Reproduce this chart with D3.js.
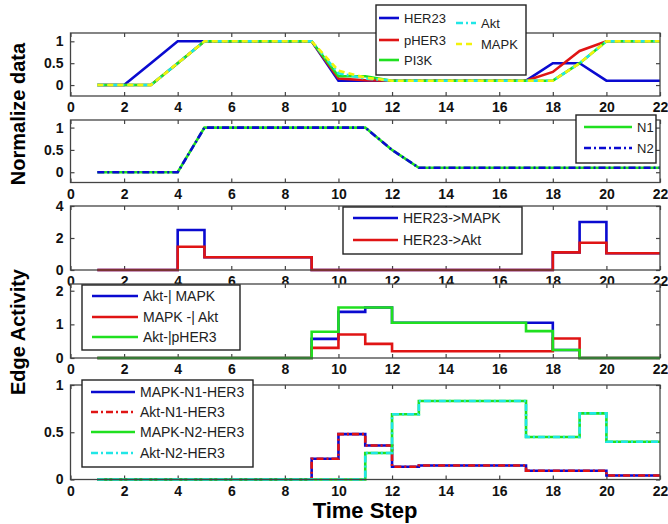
<!DOCTYPE html>
<html>
<head>
<meta charset="utf-8">
<title>Normalized data and edge activity</title>
<script src="https://d3js.org/d3.v7.min.js"></script>
<style>
body { margin: 0; background: white; font-family: "Liberation Sans", Arial, sans-serif; }
.tick text { font-size: 14px; font-weight: bold; fill: #111; font-family: "Liberation Sans", Arial, sans-serif; }
.tick line { stroke: #444; stroke-width: 1.2; }
.lg text { font-size: 14px; fill: #222; }
</style>
</head>
<body>
<script>
// time steps and the series
var timeSteps = [1,2,3,4,5,6,7,8,9,10,11,12,13,14,15,16,17,18,19,20,21,22];

// normalized data
var her23 = [0,0,0.5,1,1,1,1,1,1,0.1,0.1,0.1,0.1,0.1,0.1,0.1,0.1,0.5,0.5,0.1,0.1,0.1];
var pHer3 = [0,0,0,0.5,1,1,1,1,1,0.15,0.11,0.1,0.1,0.1,0.1,0.1,0.1,0.3,0.78,1,1,1];
var pi3k  = [0,0,0,0.5,1,1,1,1,1,0.2,0.2,0.1,0.1,0.1,0.1,0.1,0.1,0.1,0.5,1,1,1];
var akt   = [0,0,0,0.5,1,1,1,1,1,0.27,0.15,0.1,0.1,0.1,0.1,0.1,0.1,0.1,0.5,1,1,1];
var mapk  = [0,0,0,0.5,1,1,1,1,1,0.33,0.17,0.1,0.1,0.1,0.1,0.1,0.1,0.1,0.5,1,1,1];
var n1    = [0,0,0,0,1,1,1,1,1,1,1,0.5,0.1,0.1,0.1,0.1,0.1,0.1,0.1,0.1,0.1,0.1];
var n2    = [0,0,0,0,1,1,1,1,1,1,1,0.5,0.1,0.1,0.1,0.1,0.1,0.1,0.1,0.1,0.1,0.1];

// edge activity (stairs)
var her23Mapk = [0,0,0,2.5,0.8,0.8,0.8,0.8,0,0,0,0,0,0,0,0,0,1.1,3.0,1.05,1.05,1.05];
var her23Akt  = [0,0,0,1.45,0.8,0.8,0.8,0.8,0,0,0,0,0,0,0,0,0,1.1,1.7,1.05,1.05,1.05];

var aktMapk  = [0,0,0,0,0,0,0,0,0.57,1.37,1.5,1.05,1.05,1.05,1.05,1.05,1.05,0.24,0,0,0,0];
var mapkAkt  = [0,0,0,0,0,0,0,0,0.3,0.7,0.42,0.2,0.2,0.2,0.2,0.2,0.2,0.58,0,0,0,0];
var aktPher3 = [0,0,0,0,0,0,0,0,0.78,1.5,1.5,1.05,1.05,1.05,1.05,1.05,0.8,0.24,0,0,0,0];

var mapkN1Her3 = [0,0,0,0,0,0,0,0,0.22,0.48,0.36,0.135,0.148,0.148,0.148,0.148,0.093,0.093,0.093,0.042,0.042,0.042];
var aktN1Her3  = [0,0,0,0,0,0,0,0,0.22,0.48,0.36,0.135,0.148,0.148,0.148,0.148,0.093,0.093,0.093,0.042,0.042,0.042];
var mapkN2Her3 = [0,0,0,0,0,0,0,0,0,0,0.28,0.69,0.83,0.83,0.83,0.83,0.45,0.45,0.7,0.4,0.4,0.4];
var aktN2Her3  = [0,0,0,0,0,0,0,0,0,0,0.28,0.69,0.83,0.83,0.83,0.83,0.45,0.45,0.7,0.4,0.4,0.4];

var xTicks = [0,2,4,6,8,10,12,14,16,18,20,22];

var BLUE = "#0a0ad0", RED = "#e01414", GREEN = "#20e020", CYAN = "#20e6e6", YELLOW = "#f2f20a";
var SOLID = null, DASHDOT = "7,3,2,3", DASHED = "6,4";

var width = 668, height = 524;
var svg = d3.select("body").append("svg").attr("width", width).attr("height", height);

var x = d3.scaleLinear().domain([0, 22]).range([70.5, 660]);

var panels = [
  { top: 33, bottom: 96, ymin: -0.25, ymax: 1.19, yTicks: [0, 0.5, 1], curve: d3.curveLinear,
    series: [
      { name: "HER23", v: her23, c: BLUE, d: SOLID },
      { name: "pHER3", v: pHer3, c: RED, d: SOLID },
      { name: "PI3K", v: pi3k, c: GREEN, d: SOLID },
      { name: "Akt", v: akt, c: CYAN, d: DASHDOT },
      { name: "MAPK", v: mapk, c: YELLOW, d: DASHED }
    ],
    legend: { x: 376, y: 5, w: 150, h: 70, items: [
      { i: 0, lx: 379, ly: 18, len: 20 }, { i: 1, lx: 379, ly: 40, len: 20 }, { i: 2, lx: 379, ly: 60, len: 20 },
      { i: 3, lx: 456, ly: 23, len: 20 }, { i: 4, lx: 456, ly: 44, len: 20 }], size: 13 } },
  { top: 120, bottom: 182.5, ymin: -0.23, ymax: 1.17, yTicks: [0, 0.5, 1], curve: d3.curveLinear,
    series: [
      { name: "N1", v: n1, c: GREEN, d: SOLID },
      { name: "N2", v: n2, c: BLUE, d: DASHDOT }
    ],
    legend: { x: 576, y: 115, w: 80, h: 48, items: [
      { i: 0, lx: 584, ly: 127, len: 48 }, { i: 1, lx: 584, ly: 148, len: 48 }], size: 13 } },
  { top: 206, bottom: 270, ymin: 0, ymax: 4, yTicks: [0, 2, 4], curve: d3.curveStepAfter,
    series: [
      { name: "HER23->MAPK", v: her23Mapk, c: BLUE, d: SOLID },
      { name: "HER23->Akt", v: her23Akt, c: RED, d: SOLID }
    ],
    legend: { x: 343, y: 207, w: 179, h: 47, items: [
      { i: 0, lx: 353, ly: 218, len: 45 }, { i: 1, lx: 353, ly: 240, len: 45 }], size: 14 } },
  { top: 284, bottom: 358, ymin: 0, ymax: 2.2, yTicks: [0, 1, 2], curve: d3.curveStepAfter,
    series: [
      { name: "Akt-| MAPK", v: aktMapk, c: BLUE, d: SOLID },
      { name: "MAPK -| Akt", v: mapkAkt, c: RED, d: SOLID },
      { name: "Akt-|pHER3", v: aktPher3, c: GREEN, d: SOLID }
    ],
    legend: { x: 82, y: 285, w: 158, h: 65, items: [
      { i: 0, lx: 92, ly: 296, len: 46 }, { i: 1, lx: 92, ly: 317, len: 46 }, { i: 2, lx: 92, ly: 337, len: 46 }], size: 14 } },
  { top: 385, bottom: 479.5, ymin: 0, ymax: 1, yTicks: [0, 0.5, 1], curve: d3.curveStepAfter,
    series: [
      { name: "MAPK-N1-HER3", v: mapkN1Her3, c: BLUE, d: SOLID },
      { name: "Akt-N1-HER3", v: aktN1Her3, c: RED, d: DASHDOT },
      { name: "MAPK-N2-HER3", v: mapkN2Her3, c: GREEN, d: SOLID },
      { name: "Akt-N2-HER3", v: aktN2Her3, c: CYAN, d: DASHDOT }
    ],
    legend: { x: 82, y: 380, w: 171, h: 87, items: [
      { i: 0, lx: 91, ly: 392, len: 44 }, { i: 1, lx: 91, ly: 412, len: 44 }, { i: 2, lx: 91, ly: 432, len: 44 }, { i: 3, lx: 91, ly: 453, len: 44 }], size: 14 } }
];

panels.forEach(function(p) {
  var y = d3.scaleLinear().domain([p.ymin, p.ymax]).range([p.bottom, p.top]);
  var g = svg.append("g");

  // white axes background covers labels of the panel above
  g.append("rect").attr("x", x(0)).attr("y", p.top)
    .attr("width", x(22) - x(0)).attr("height", p.bottom - p.top).attr("fill", "white");

  var fmt = function(d) { return d === 0.5 ? "0.5" : d3.format("d")(d); };
  g.append("g").attr("transform", "translate(0," + p.bottom + ")")
    .call(d3.axisBottom(x).tickValues(xTicks).tickSizeInner(-4).tickSizeOuter(0).tickPadding(6.5).tickFormat(d3.format("d")));
  g.append("g").attr("transform", "translate(0," + p.top + ")")
    .call(d3.axisTop(x).tickValues(xTicks).tickSizeInner(-4).tickSizeOuter(0).tickFormat(""));
  g.append("g").attr("transform", "translate(" + x(0) + ",0)")
    .call(d3.axisLeft(y).tickValues(p.yTicks).tickSizeInner(-4).tickSizeOuter(0).tickPadding(7).tickFormat(fmt));
  g.append("g").attr("transform", "translate(" + x(22) + ",0)")
    .call(d3.axisRight(y).tickValues(p.yTicks).tickSizeInner(-4).tickSizeOuter(0).tickFormat(""));
  g.selectAll(".domain").remove();

  var line = d3.line().curve(p.curve)
    .x(function(d, i) { return x(timeSteps[i]); })
    .y(function(d) { return y(d); });

  p.series.forEach(function(s) {
    g.append("path").datum(s.v)
      .attr("fill", "none").attr("stroke", s.c).attr("stroke-width", 2.6)
      .attr("stroke-dasharray", s.d).attr("d", line);
  });

  g.append("rect").attr("x", x(0)).attr("y", p.top)
    .attr("width", x(22) - x(0)).attr("height", p.bottom - p.top)
    .attr("fill", "none").attr("stroke", "#444").attr("stroke-width", 1.3);

  // legend
  var L = p.legend;
  var lg = svg.append("g").attr("class", "lg");
  lg.append("rect").attr("x", L.x).attr("y", L.y).attr("width", L.w).attr("height", L.h)
    .attr("fill", "white").attr("stroke", "#222").attr("stroke-width", 1.4);
  L.items.forEach(function(it) {
    var s = p.series[it.i];
    lg.append("line").attr("x1", it.lx).attr("x2", it.lx + it.len).attr("y1", it.ly).attr("y2", it.ly)
      .attr("stroke", s.c).attr("stroke-width", 2.6).attr("stroke-dasharray", s.d);
    lg.append("text").attr("x", it.lx + it.len + 5).attr("y", it.ly).attr("dy", "0.36em")
      .style("font-size", L.size + "px").text(s.name);
  });
});

// axis titles
svg.append("text").attr("transform", "translate(25,114) rotate(-90)")
  .attr("text-anchor", "middle").style("font-size", "20px").style("font-weight", "bold")
  .text("Normalize data");
svg.append("text").attr("transform", "translate(25,332) rotate(-90)")
  .attr("text-anchor", "middle").style("font-size", "20px").style("font-weight", "bold")
  .text("Edge  Activity");
svg.append("text").attr("x", 365).attr("y", 518)
  .attr("text-anchor", "middle").style("font-size", "22px").style("font-weight", "bold")
  .text("Time Step");
</script>
</body>
</html>
